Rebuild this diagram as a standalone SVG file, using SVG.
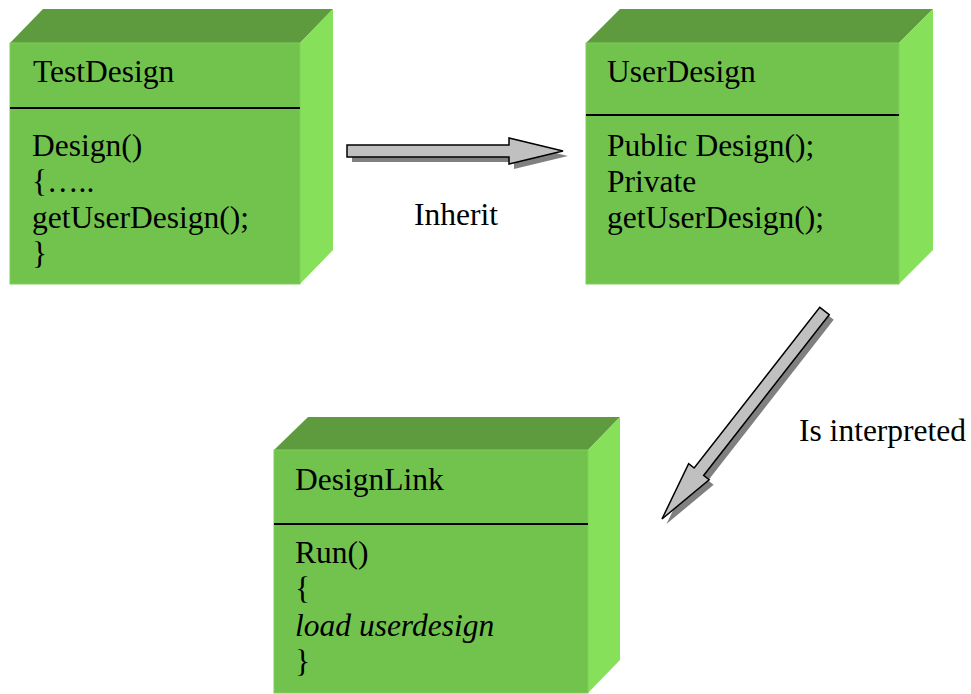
<svg xmlns="http://www.w3.org/2000/svg" width="971" height="694" viewBox="0 0 971 694">
<style>
.front{fill:#72C34E;stroke:#7FCF5A;stroke-width:1}
.top{fill:#5E9A3E}
.side{fill:#86E05A}
.div{stroke:#000;stroke-width:2}
text{font-family:"Liberation Serif","Times New Roman",serif;font-size:31.5px;fill:#000}
.arrow{fill:#C0C0C0;stroke:#000;stroke-width:1.5;stroke-linejoin:miter}
.shadow{fill:#808080}
</style>
<defs>
<path id="harrow" d="M0,-6 L162,-6 L162,-13 L216,0 L162,13 L162,6 L0,6 Z"/>
<path id="darrow" d="M0,-6 L204,-6 L204,-13 L264,0 L204,13 L204,6 L0,6 Z"/>
</defs>
<g id="connectors">
<g id="inherit">
<use href="#harrow" class="shadow" transform="translate(352,156)"/>
<use href="#harrow" class="arrow" transform="translate(347,151)"/>
<text x="414" y="225">Inherit</text>
</g>
<g id="interpreted">
<use href="#darrow" class="shadow" transform="translate(829,316) rotate(128)"/>
<use href="#darrow" class="arrow" transform="translate(824.5,311) rotate(128)"/>
<text x="799" y="441">Is interpreted</text>
</g>
</g>
<g id="TestDesign">
<polygon class="top" points="10,43 43,9 333,9 300,43"/>
<polygon class="side" points="300,43 333,9 333,250 300,284"/>
<rect class="front" x="10" y="43" width="290" height="241"/>
<line class="div" x1="10" y1="108" x2="300" y2="108"/>
<text x="33" y="82">TestDesign</text>
<text x="32" y="156">Design()</text>
<text x="32" y="192">{…..</text>
<text x="32" y="228">getUserDesign();</text>
<text x="32" y="264">}</text>
</g>
<g id="UserDesign">
<polygon class="top" points="586,43 620,9 933,9 899,43"/>
<polygon class="side" points="899,43 933,9 933,250 899,284"/>
<rect class="front" x="586" y="43" width="313" height="241"/>
<line class="div" x1="586" y1="115" x2="899" y2="115"/>
<text x="607" y="82">UserDesign</text>
<text x="607" y="156">Public Design();</text>
<text x="607" y="192">Private</text>
<text x="607" y="228">getUserDesign();</text>
</g>
<g id="DesignLink">
<polygon class="top" points="274,450 308,417 620,417 588,450"/>
<polygon class="side" points="588,450 620,417 620,660 588,693"/>
<rect class="front" x="274" y="450" width="314" height="243"/>
<line class="div" x1="274" y1="524" x2="588" y2="524"/>
<text x="295" y="490">DesignLink</text>
<text x="295" y="563">Run()</text>
<text x="295" y="599">{</text>
<text x="295" y="636" font-style="italic">load userdesign</text>
<text x="295" y="672">}</text>
</g>
</svg>
